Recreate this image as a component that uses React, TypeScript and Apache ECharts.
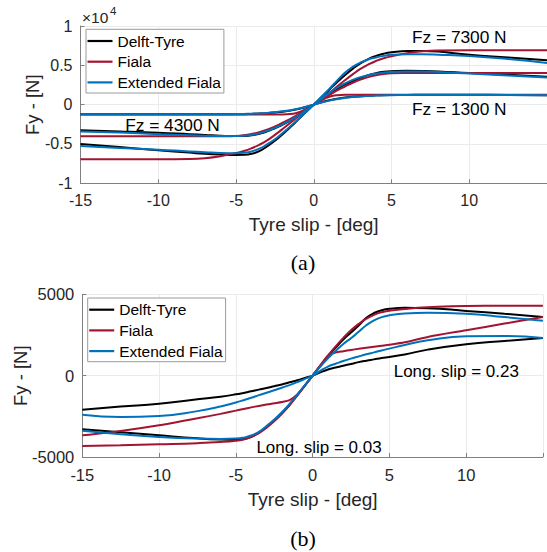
import React, { useEffect, useRef } from 'react';
import * as echarts from 'echarts';

const FONT = "'Liberation Sans', Arial, Helvetica, sans-serif";
const SERIF = "'Liberation Serif', 'Times New Roman', serif";

const NAMES = ['Delft-Tyre', 'Fiala', 'Extended Fiala'];
const COLORS = ['#000000', '#A2142F', '#0072BD'];

// ---------- (a) lateral force [N] vs tyre slip [deg] for three vertical loads
const X_TOP = [-15, -12.5, -10, -8, -7, -6, -5, -4.5, -4, -3.5, -3, -2.5, -2, -1.5, -1, -0.5, 0, 0.5, 1, 1.5, 2, 2.5, 3, 3.5, 4, 4.5, 5, 6, 7, 8, 10, 12.5, 15];
const DT_7300 = [-5000, -5400, -5800, -6100, -6250, -6350, -6400, -6380, -6250, -5900, -5300, -4600, -3750, -2850, -1900, -950, 0, 950, 1900, 2850, 3750, 4550, 5250, 5800, 6200, 6480, 6650, 6820, 6830, 6750, 6350, 6000, 5650];
const EF_7300 = [-5270, -5500, -5720, -5950, -6050, -6150, -6180, -6120, -5950, -5600, -5050, -4400, -3600, -2750, -1850, -950, 0, 1000, 2000, 3050, 4050, 4800, 5350, 5750, 6000, 6200, 6330, 6400, 6400, 6350, 6180, 5800, 5300];
const F_7300 = [-6930, -6930, -6930, -6900, -6800, -6550, -6150, -5900, -5550, -5100, -4550, -3850, -3100, -2300, -1500, -750, 0, 750, 1500, 2300, 3100, 3850, 4550, 5100, 5550, 5900, 6150, 6550, 6800, 6900, 6930, 6930, 6930];
const DT_4300 = [-3270, -3400, -3560, -3750, -3850, -3950, -4000, -3980, -3900, -3700, -3400, -3000, -2550, -2000, -1400, -720, 0, 720, 1400, 2000, 2550, 3000, 3400, 3750, 4000, 4170, 4250, 4300, 4280, 4220, 4020, 3800, 3550];
const EF_4300 = [-3400, -3550, -3750, -3900, -3960, -4000, -4000, -3960, -3850, -3650, -3350, -2950, -2500, -1980, -1400, -720, 0, 760, 1480, 2150, 2700, 3150, 3500, 3750, 3950, 4080, 4150, 4200, 4200, 4150, 3950, 3700, 3450];
const F_4300 = [-4030, -4030, -4030, -4030, -4030, -4020, -3980, -3900, -3740, -3500, -3180, -2780, -2300, -1800, -1230, -620, 0, 620, 1230, 1800, 2300, 2780, 3180, 3500, 3740, 3900, 3980, 4020, 4030, 4030, 4030, 4030, 4030];
const DT_1300 = [-1230, -1230, -1230, -1230, -1230, -1230, -1225, -1210, -1180, -1140, -1080, -1000, -900, -760, -560, -300, 0, 300, 560, 760, 900, 1000, 1080, 1140, 1180, 1210, 1225, 1240, 1250, 1250, 1250, 1230, 1210];
const EF_1300 = [-1230, -1230, -1230, -1230, -1225, -1220, -1200, -1180, -1150, -1110, -1050, -960, -850, -700, -510, -270, 0, 270, 510, 700, 850, 960, 1050, 1110, 1150, 1180, 1200, 1220, 1235, 1240, 1240, 1220, 1200];
const F_1300 = [-1250, -1250, -1250, -1250, -1250, -1250, -1250, -1250, -1250, -1250, -1250, -1250, -1250, -1200, -1000, -560, 0, 560, 1000, 1200, 1250, 1250, 1250, 1250, 1250, 1250, 1250, 1250, 1250, 1250, 1250, 1250, 1250];

// ---------- (b) lateral force [N] vs tyre slip [deg] for two longitudinal slips
const X_BOT = [-15, -12.5, -10, -7.5, -6, -5, -4.5, -4, -3.5, -3, -2.5, -2, -1.5, -1, -0.5, 0, 0.5, 1, 1.5, 2, 2.5, 3, 3.5, 4, 4.5, 5, 6, 7.5, 10, 12.5, 15];
const DT_003 = [-3300, -3480, -3670, -3850, -3930, -3950, -3900, -3760, -3500, -3150, -2750, -2300, -1780, -1200, -600, 0, 600, 1180, 1720, 2220, 2650, 3080, 3550, 3850, 4020, 4110, 4170, 4150, 3980, 3800, 3610];
const EF_003 = [-3390, -3600, -3770, -3870, -3890, -3870, -3810, -3680, -3450, -3100, -2700, -2250, -1740, -1180, -590, 0, 550, 1060, 1520, 1950, 2300, 2700, 3100, 3400, 3600, 3710, 3820, 3860, 3810, 3600, 3380];
const F_003 = [-4320, -4280, -4220, -4150, -4080, -4000, -3920, -3780, -3530, -3200, -2800, -2350, -1820, -1230, -620, 0, 620, 1230, 1800, 2320, 2790, 3180, 3500, 3740, 3900, 3990, 4100, 4200, 4280, 4290, 4290];
const DT_023 = [-2090, -1900, -1720, -1450, -1290, -1150, -1060, -960, -860, -760, -650, -540, -410, -280, -140, 0, 200, 380, 500, 610, 720, 830, 920, 1000, 1080, 1150, 1300, 1600, 1930, 2130, 2310];
const EF_023 = [-2400, -2540, -2480, -2180, -1900, -1650, -1510, -1360, -1200, -1050, -900, -740, -580, -400, -200, 0, 300, 560, 730, 900, 1045, 1180, 1310, 1430, 1550, 1660, 1880, 2170, 2420, 2440, 2320];
const F_023 = [-3670, -3400, -3050, -2620, -2350, -2150, -2050, -1950, -1860, -1780, -1700, -1620, -1500, -1150, -600, 0, 620, 1230, 1420, 1500, 1580, 1650, 1720, 1780, 1840, 1900, 2050, 2380, 2790, 3200, 3600];

const X_TICK_HIDE = 15;

function line(name: string, color: string, xs: number[], ys: number[], gi: number, z: number, smooth = 0.5) {
  return {
    type: 'line',
    name,
    xAxisIndex: gi,
    yAxisIndex: gi,
    data: xs.map((x, i) => [x, ys[i]]),
    symbol: 'none',
    showSymbol: false,
    smooth,
    lineStyle: { color, width: 2 },
    itemStyle: { color },
    z,
  };
}

function xAxis(gi: number, fs: number) {
  return {
    type: 'value',
    gridIndex: gi,
    min: -15,
    max: 15,
    interval: 5,
    axisLine: { show: true, onZero: false, lineStyle: { color: '#808080', width: 1 } },
    axisTick: { show: true, inside: true, length: 4, lineStyle: { color: '#808080' } },
    axisLabel: {
      color: '#262626',
      fontSize: fs,
      fontFamily: FONT,
      margin: 9,
      formatter: (v: number) => (v === X_TICK_HIDE ? '' : String(v)),
    },
    splitLine: { show: true, lineStyle: { color: '#ebebeb', width: 1 } },
  };
}

function yAxis(gi: number, fs: number, min: number, max: number, interval: number, fmt: (v: number) => string) {
  return {
    type: 'value',
    gridIndex: gi,
    min,
    max,
    interval,
    axisLine: { show: true, onZero: false, lineStyle: { color: '#808080', width: 1 } },
    axisTick: { show: true, inside: true, length: 4, lineStyle: { color: '#808080' } },
    axisLabel: { color: '#262626', fontSize: fs, fontFamily: FONT, margin: 8, formatter: fmt },
    splitLine: { show: true, lineStyle: { color: '#ebebeb', width: 1 } },
  };
}

function legend(left: number, top: number) {
  return {
    data: NAMES.map((n) => ({ name: n, icon: 'rect' })),
    orient: 'vertical',
    left,
    top,
    padding: [3.7, 3, 2.6, 1.5],
    itemWidth: 25,
    itemHeight: 2.2,
    itemGap: 4.7,
    borderColor: '#9a9a9a',
    borderWidth: 1,
    borderRadius: 0,
    backgroundColor: '#ffffff',
    selectedMode: false,
    textStyle: { fontSize: 15.5, fontFamily: FONT, color: '#000', lineHeight: 16 },
  };
}

function txt(text: string, x: number, y: number, fs: number, opts: any = {}) {
  return {
    type: 'text',
    x,
    y,
    z: 100,
    rotation: opts.rotation || 0,
    style: {
      text,
      fontSize: fs,
      fontFamily: opts.family || FONT,
      fill: opts.fill || '#000',
      align: opts.align || 'center',
      verticalAlign: 'middle',
    },
  };
}

export default function App() {
  const ref = useRef<HTMLDivElement>(null);
  useEffect(() => {
    const chart = echarts.init(ref.current!, null, { renderer: 'svg' });
    const option: any = {
      animation: false,
      backgroundColor: '#ffffff',
      grid: [
        { left: 80.5, top: 26, width: 466.5, height: 157.3, outerBoundsMode: 'none' },
        { left: 82.3, top: 294.3, width: 460.6, height: 162.7, outerBoundsMode: 'none' },
      ],
      xAxis: [xAxis(0, 16), xAxis(1, 16.5)],
      yAxis: [
        yAxis(0, 16, -10000, 10000, 5000, (v: number) => String(v / 10000)),
        yAxis(1, 16.5, -5000, 5000, 5000, (v: number) => String(v)),
      ],
      legend: [legend(86, 29.3), legend(87.7, 298)],
      series: [
        line(NAMES[0], COLORS[0], X_TOP, DT_7300, 0, 2),
        line(NAMES[0], COLORS[0], X_TOP, DT_4300, 0, 2),
        line(NAMES[0], COLORS[0], X_TOP, DT_1300, 0, 2),
        line(NAMES[1], COLORS[1], X_TOP, F_7300, 0, 3),
        line(NAMES[1], COLORS[1], X_TOP, F_4300, 0, 3),
        line(NAMES[1], COLORS[1], X_TOP, F_1300, 0, 3),
        line(NAMES[2], COLORS[2], X_TOP, EF_7300, 0, 4),
        line(NAMES[2], COLORS[2], X_TOP, EF_4300, 0, 4),
        line(NAMES[2], COLORS[2], X_TOP, EF_1300, 0, 4),
        line(NAMES[0], COLORS[0], X_BOT, DT_003, 1, 2),
        line(NAMES[0], COLORS[0], X_BOT, DT_023, 1, 2),
        line(NAMES[1], COLORS[1], X_BOT, F_003, 1, 3),
        line(NAMES[1], COLORS[1], X_BOT, F_023, 1, 3, 0.25),
        line(NAMES[2], COLORS[2], X_BOT, EF_003, 1, 4),
        line(NAMES[2], COLORS[2], X_BOT, EF_023, 1, 4),
      ],
      graphic: [
        txt('×10', 82, 17, 15.5, { align: 'left', fill: '#262626' }),
        txt('4', 110, 11, 11.5, { align: 'left', fill: '#262626' }),
        txt('Fy - [N]', 32.5, 104.7, 18.5, { rotation: Math.PI / 2, fill: '#262626' }),
        txt('Tyre slip - [deg]', 313.7, 224.5, 19, { fill: '#262626' }),
        txt('Fz = 7300 N', 459.3, 36.7, 17.3),
        txt('Fz = 1300 N', 459.3, 109.2, 17.3),
        txt('Fz = 4300 N', 172.5, 125, 17.3),
        txt('(a)', 303, 262, 22, { family: SERIF }),
        txt('Fy - [N]', 20.5, 375.7, 18.5, { rotation: Math.PI / 2, fill: '#262626' }),
        txt('Tyre slip - [deg]', 312.7, 499.5, 19, { fill: '#262626' }),
        txt('Long. slip = 0.23', 456.3, 371, 17),
        txt('Long. slip = 0.03', 319, 447.8, 17),
        txt('(b)', 303, 538, 22, { family: SERIF }),
      ],
    };
    chart.setOption(option);
    return () => chart.dispose();
  }, []);
  return (
    <div
      ref={ref}
      style={{ position: 'absolute', left: 0, top: 0, width: 547, height: 552, background: '#fff' }}
    />
  );
}
